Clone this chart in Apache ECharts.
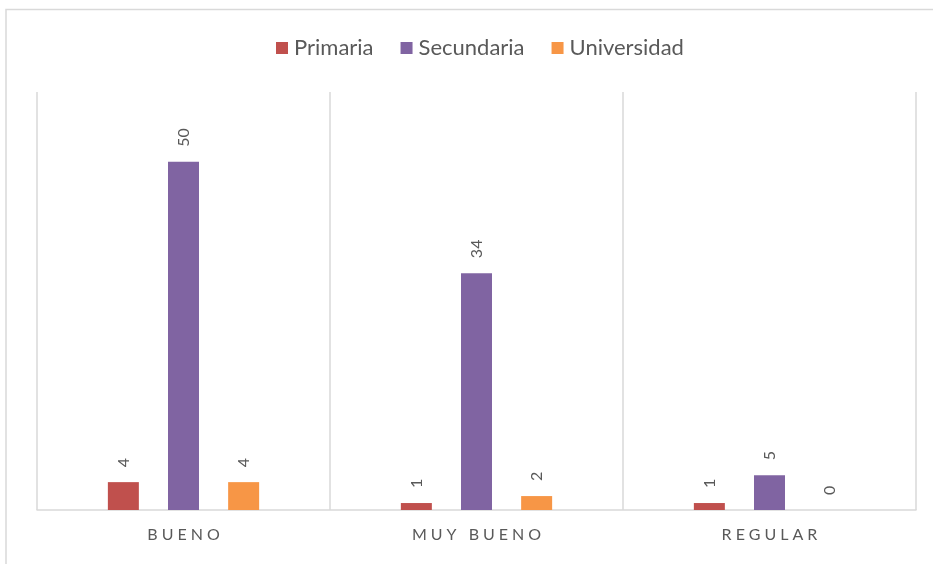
<!DOCTYPE html>
<html>
<head>
<meta charset="utf-8">
<script src="https://cdn.jsdelivr.net/npm/echarts@6/dist/echarts.min.js"></script>
<style>
  html, body { margin: 0; padding: 0; background: #fff; }
  #chart { width: 933px; height: 564px; }
</style>
</head>
<body>
<div id="chart"></div>
<script>
// Categories and counts per education level
const categories = ['BUENO', 'MUY BUENO', 'REGULAR'];
const primaria = [4, 1, 1];
const secundaria = [50, 34, 5];
const universidad = [4, 2, 0];

const FONT = 'Lato, "Open Sans", sans-serif';
const TEXT = '#595959';
const GRID_LINE = '#d9d9d9';

const valueLabel = {
  show: true,
  position: 'top',
  rotate: 90,
  align: 'left',
  verticalAlign: 'middle',
  distance: 15,
  color: TEXT,
  fontFamily: FONT,
  fontSize: 16
};

function barSeries(name, data, color) {
  return {
    name: name,
    type: 'bar',
    data: data,
    barWidth: 31,
    barGap: '94%',
    itemStyle: { color: color },
    label: valueLabel
  };
}

const chart = echarts.init(document.getElementById('chart'), null, { renderer: 'canvas' });
chart.setOption({
  animation: false,
  backgroundColor: '#ffffff',
  graphic: [{
    type: 'rect',
    shape: { x: 6, y: 9.5, width: 940, height: 570 },
    style: { fill: 'none', stroke: GRID_LINE, lineWidth: 1.5 },
    silent: true
  }],
  legend: {
    top: 32,
    left: 271,
    itemWidth: 12,
    itemHeight: 12,
    itemGap: 27,
    icon: 'rect',
    textStyle: { color: TEXT, fontFamily: FONT, fontSize: 22, padding: [0, 0, 0, 1] },
    data: ['Primaria', 'Secundaria', 'Universidad']
  },
  grid: { left: 37, right: 17, top: 92, bottom: 54 },
  xAxis: {
    type: 'category',
    data: categories,
    axisLine: { show: true, lineStyle: { color: GRID_LINE, width: 1.5 } },
    axisTick: { show: false },
    splitLine: { show: true, interval: 0, lineStyle: { color: GRID_LINE, width: 1.5 } },
    axisLabel: {
      color: TEXT,
      fontFamily: FONT,
      fontSize: 16,
      margin: 17,
      formatter: v => v.split('').join('\u2009\u2009')
    }
  },
  yAxis: {
    type: 'value',
    min: 0,
    max: 60,
    interval: 10,
    show: false,
    splitLine: { show: false }
  },
  series: [
    barSeries('Primaria', primaria, '#c0504d'),
    barSeries('Secundaria', secundaria, '#8064a2'),
    barSeries('Universidad', universidad, '#f79646')
  ]
});
</script>
</body>
</html>
